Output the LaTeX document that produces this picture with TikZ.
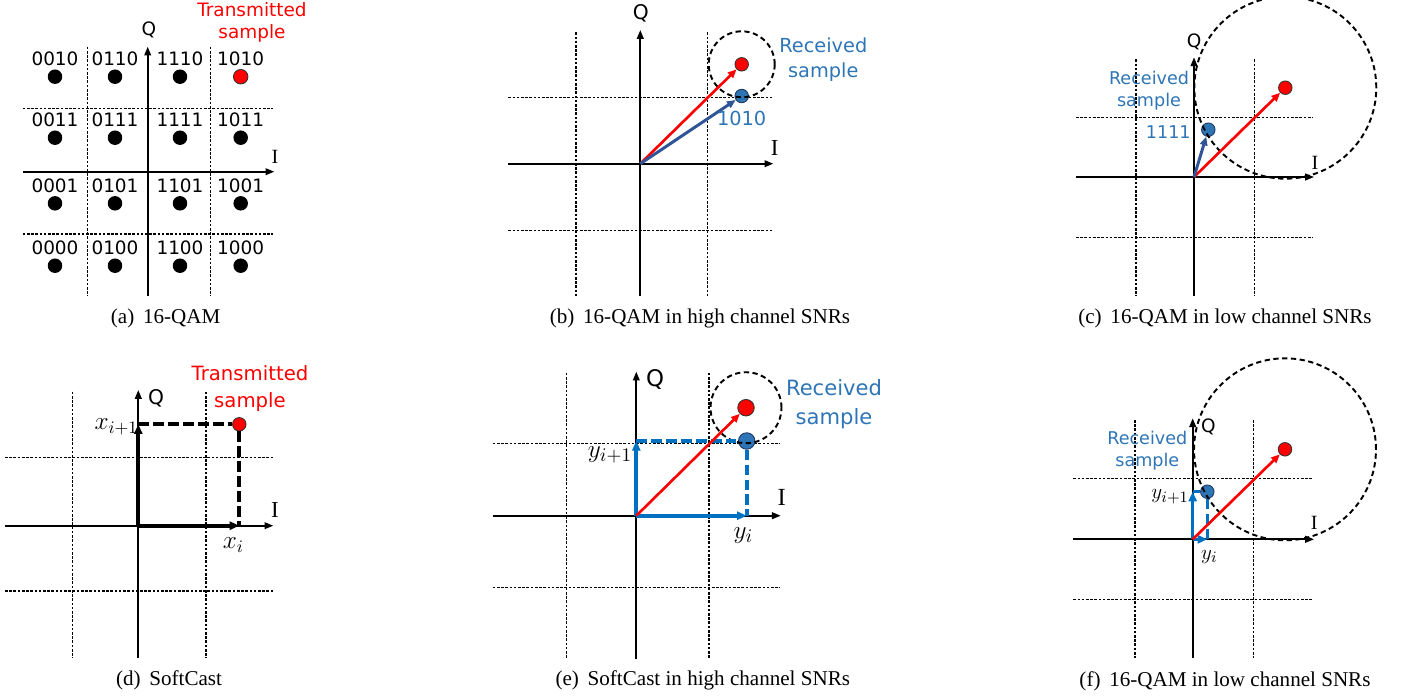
\documentclass[tikz,border=0pt]{standalone}
\usepackage{fontspec}
\setmainfont{Liberation Serif}
\newfontfamily\lblfont{DejaVu Sans}
\usepackage{tikz}
\usetikzlibrary{arrows.meta, positioning}

\definecolor{txblue}{RGB}{46,117,182}
\definecolor{dkblue}{RGB}{47,85,151}
\definecolor{vecblue}{RGB}{0,112,192}
\definecolor{dotedge}{RGB}{31,56,100}

\tikzset{
    gridln/.style={line width=0.6pt, dash pattern=on 1.5pt off 0.9pt},
    axis/.style={line width=1pt, -{Triangle[length=5pt,width=3.8pt]}},
    qdot/.style={circle, fill=black, inner sep=0pt, minimum size=0.29cm},
    rdot/.style={circle, fill=red, draw=black!80, line width=0.5pt, inner sep=0pt, minimum size=#1},
    bdot/.style={circle, fill=txblue, draw=dotedge, line width=0.5pt, inner sep=0pt, minimum size=#1},
    noise/.style={line width=1.1pt, dash pattern=on 3pt off 2pt},
    redvec/.style={red, line width=1.5pt, -{Triangle[length=5pt,width=4.2pt]}},
    dkvec/.style={dkblue, line width=1.7pt, -{Triangle[length=5pt,width=4.2pt]}},
    softvec/.style={line width=#1, -{Triangle[length=5.5pt,width=4.6pt]}},
    softdash/.style={line width=#1, dash pattern=on 6pt off 2.5pt},
    lab/.style={font=\lblfont\fontsize{#1}{#1}\selectfont, inner sep=0pt},
    twolab/.style={align=center, inner sep=0pt},
    ilab/.style={font=\fontsize{#1}{#1}\selectfont, inner sep=0pt},
    subcap/.style={font=\fontsize{12}{14}\selectfont, inner sep=0pt},
}

\begin{document}
\begin{tikzpicture}[x=0.02cm, y=-0.02cm]
    \useasboundingbox (0,0) rectangle (1404,697);

    % (a) 16-QAM
    \begin{scope}[shift={(147.7,171.7)}]
        \draw[gridln] (-60.4,-125) -- (-60.4,124.3);
        \draw[gridln] (63,-125) -- (63,124.3);
        \draw[gridln] (-125,-63.4) -- (125.3,-63.4);
        \draw[gridln] (-125,62.3) -- (125.3,62.3);
        \draw[axis] (-125,0) -- (126.6,0);
        \draw[axis] (0,124.3) -- (0,-125);
        \node[lab=10.5] (a-q) at (1.3,-141.7) {Q};
        \node[ilab=11.5] (a-i) at (127.3,-15) {I};
        \node[qdot, label={[lab=10.5, label distance=1.6pt]above:0010}] (a0010) at (-92.7,-95) {};
        \node[qdot, label={[lab=10.5, label distance=1.6pt]above:0110}] (a0110) at (-32.7,-95) {};
        \node[qdot, label={[lab=10.5, label distance=1.6pt]above:1110}] (a1110) at (32.3,-95) {};
        \node[rdot=0.29cm, label={[lab=10.5, label distance=1.6pt]above:1010}] (a1010) at (93,-95) {};
        \node[qdot, label={[lab=10.5, label distance=1.6pt]above:0011}] (a0011) at (-92.7,-34) {};
        \node[qdot, label={[lab=10.5, label distance=1.6pt]above:0111}] (a0111) at (-32.7,-34) {};
        \node[qdot, label={[lab=10.5, label distance=1.6pt]above:1111}] (a1111) at (32.3,-34) {};
        \node[qdot, label={[lab=10.5, label distance=1.6pt]above:1011}] (a1011) at (93,-34) {};
        \node[qdot, label={[lab=10.5, label distance=1.6pt]above:0001}] (a0001) at (-92.7,31.6) {};
        \node[qdot, label={[lab=10.5, label distance=1.6pt]above:0101}] (a0101) at (-32.7,31.6) {};
        \node[qdot, label={[lab=10.5, label distance=1.6pt]above:1101}] (a1101) at (32.3,31.6) {};
        \node[qdot, label={[lab=10.5, label distance=1.6pt]above:1001}] (a1001) at (93,31.6) {};
        \node[qdot, label={[lab=10.5, label distance=1.6pt]above:0000}] (a0000) at (-92.7,94) {};
        \node[qdot, label={[lab=10.5, label distance=1.6pt]above:0100}] (a0100) at (-32.7,94) {};
        \node[qdot, label={[lab=10.5, label distance=1.6pt]above:1100}] (a1100) at (32.3,94) {};
        \node[qdot, label={[lab=10.5, label distance=1.6pt]above:1000}] (a1000) at (93,94) {};
        \node[twolab, text=red, font=\lblfont\fontsize{10.5}{12.1}\selectfont] (a-tx) at (104.3,-149.4) {Transmitted\\sample};
        \node[subcap] (a-cap) at (18,146.6) {(a)\, 16-QAM};
    \end{scope}

    % (b) 16-QAM, high SNR
    \begin{scope}[shift={(640.3,163.7)}]
        \draw[gridln] (-64.3,-131.4) -- (-64.3,132.3);
        \draw[gridln] (67,-131.4) -- (67,132.3);
        \draw[gridln] (-132,-66) -- (132.4,-66);
        \draw[gridln] (-132,66.6) -- (132.4,66.6);
        \draw[axis] (-132,0) -- (133,0);
        \draw[axis] (0,132.3) -- (0,-133.7);
        \node[lab=11.5] (b-q) at (0.4,-150.4) {Q};
        \node[ilab=13] (b-i) at (134.4,-15.4) {I};
        \coordinate (b-o) at (0,0);
        \node[rdot=0.27cm] (b-red) at (101.4,-99.4) {};
        \node[bdot=0.27cm] (b-blue) at (101.4,-67.7) {};
        \draw[noise] (b-red) circle [radius=0.66cm];
        \draw[redvec] (b-o) -- (b-red);
        \draw[dkvec] (b-o) -- (b-blue);
        \node[lab=11, text=txblue] (b-bits) at (101.4,-45.4) {1010};
        \node[twolab, text=txblue, font=\lblfont\fontsize{11}{14.2}\selectfont] (b-rx) at (183,-104.5) {Received\\sample};
        \node[subcap] (b-cap) at (59.7,154.3) {(b)\, 16-QAM in high channel SNRs};
    \end{scope}

    % (c) 16-QAM, low SNR
    \begin{scope}[shift={(1194,177)}]
        \draw[gridln] (-58,-117.7) -- (-58,119);
        \draw[gridln] (60.3,-117.7) -- (60.3,119);
        \draw[gridln] (-118,-59.3) -- (119.3,-59.3);
        \draw[gridln] (-118,60.3) -- (119.3,60.3);
        \draw[axis] (-118,0) -- (120,0);
        \draw[axis] (0,119) -- (0,-119.7);
        \node[lab=10.5] (c-q) at (0,-135.3) {Q};
        \node[ilab=11.5] (c-i) at (121,-13.7) {I};
        \coordinate (c-o) at (0,0);
        \node[rdot=0.27cm] (c-red) at (91.3,-89.3) {};
        \node[bdot=0.27cm] (c-blue) at (14.3,-47.3) {};
        \draw[noise] (c-red) circle [radius=1.82cm];
        \draw[redvec] (c-o) -- (c-red);
        \draw[dkvec] (c-o) -- (c-blue);
        \node[lab=10, text=txblue] (c-bits) at (-25.7,-45.3) {1111};
        \node[twolab, text=txblue, font=\lblfont\fontsize{10}{12.3}\selectfont] (c-rx) at (-45,-86.2) {Received\\sample};
        \node[subcap] (c-cap) at (31,141.3) {(c)\, 16-QAM in low channel SNRs};
    \end{scope}

    % (d) SoftCast
    \begin{scope}[shift={(138.3,525.7)}]
        \draw[gridln] (-65.6,-134) -- (-65.6,132);
        \draw[gridln] (67.7,-134) -- (67.7,132);
        \draw[gridln] (-133.3,-68) -- (134.4,-68);
        \draw[gridln] (-133.3,65.3) -- (134.4,65.3);
        \draw[axis] (-133.3,0) -- (135,0);
        \draw[axis] (0,132.6) -- (0,-135.7);
        \node[lab=11.5] (d-q) at (17.7,-127.4) {Q};
        \node[ilab=13] (d-i) at (136.7,-15.7) {I};
        \coordinate (d-o) at (0,0);
        \coordinate (d-qc) at (0,-101.4);
        \coordinate (d-ic) at (101,0);
        \node[rdot=0.27cm] (d-red) at (101,-101.4) {};
        \draw[softdash=2.3pt] (d-qc) -- (d-red);
        \draw[softdash=2.3pt] (d-red) -- (d-ic);
        \draw[softvec=2.3pt] (d-o) -- (d-qc);
        \draw[softvec=2.3pt] (d-o) -- (d-ic);
        \node[ilab=14] (d-xq) at (-22,-99) {$x_{i+1}$};
        \node[ilab=14] (d-xi) at (95,19.3) {$x_i$};
        \node[twolab, text=red, font=\lblfont\fontsize{11.2}{15.1}\selectfont] (d-tx) at (111.7,-137.4) {Transmitted\\sample};
        \node[subcap] (d-cap) at (30.7,154.3) {(d)\, SoftCast};
    \end{scope}

    % (e) SoftCast, high SNR
    \begin{scope}[shift={(636.3,515.7)}]
        \draw[gridln] (-69.6,-143) -- (-69.6,143.3);
        \draw[gridln] (72.7,-143) -- (72.7,143.3);
        \draw[gridln] (-143.6,-72.4) -- (143.7,-72.4);
        \draw[gridln] (-143.6,72) -- (143.7,72);
        \draw[axis] (-143.6,0) -- (144.4,0);
        \draw[axis] (0,143.3) -- (0,-144);
        \node[lab=13] (e-q) at (18.7,-136.7) {Q};
        \node[ilab=14] (e-i) at (145.4,-18.4) {I};
        \coordinate (e-o) at (0,0);
        \coordinate (e-qc) at (0,-74.7);
        \coordinate (e-ic) at (110.4,0);
        \node[rdot=0.33cm] (e-red) at (109.7,-108) {};
        \node[bdot=0.33cm] (e-blue) at (110.4,-74.7) {};
        \draw[noise] (e-red) circle [radius=0.71cm];
        \draw[softdash=2.3pt, vecblue] (e-qc) -- (e-blue);
        \draw[softdash=2.3pt, vecblue] (e-blue) -- (e-ic);
        \draw[softvec=2.3pt, vecblue] (e-o) -- (e-qc);
        \draw[softvec=2.3pt, vecblue] (e-o) -- (e-ic);
        \draw[redvec] (e-o) -- (e-red);
        \node[ilab=15] (e-yq) at (-26.3,-60.7) {$y_{i+1}$};
        \node[ilab=15] (e-yi) at (107,20) {$y_i$};
        \node[twolab, text=txblue, font=\lblfont\fontsize{12}{16}\selectfont] (e-rx) at (197.7,-111.5) {Received\\sample};
        \node[subcap] (e-cap) at (66.5,164.3) {(e)\, SoftCast in high channel SNRs};
    \end{scope}

    % (f) low SNR, analog
    \begin{scope}[shift={(1192.7,539.3)}]
        \draw[gridln] (-57.7,-119.3) -- (-57.7,119);
        \draw[gridln] (60.6,-119.3) -- (60.6,119);
        \draw[gridln] (-119.4,-61) -- (120.6,-61);
        \draw[gridln] (-119.4,60) -- (120.6,60);
        \draw[axis] (-119.4,0) -- (121.3,0);
        \draw[axis] (0,119) -- (0,-121);
        \node[lab=10.5] (f-q) at (15.6,-112.6) {Q};
        \node[ilab=11.5] (f-i) at (121.6,-16) {I};
        \coordinate (f-o) at (0,0);
        \coordinate (f-qc) at (0,-47.6);
        \coordinate (f-ic) at (14.6,0);
        \node[rdot=0.27cm] (f-red) at (92.3,-90) {};
        \node[bdot=0.27cm] (f-blue) at (14.6,-47.6) {};
        \draw[noise] (f-red) circle [radius=1.82cm];
        \draw[softdash=2pt, vecblue] (f-qc) -- (f-blue);
        \draw[softdash=2pt, vecblue] (f-blue) -- (f-ic);
        \draw[softvec=2pt, vecblue] (f-o) -- (f-qc);
        \draw[softvec=2pt, vecblue] (f-o) -- (f-ic);
        \draw[redvec] (f-o) -- (f-red);
        \node[ilab=12.5] (f-yq) at (-22.7,-42.6) {$y_{i+1}$};
        \node[ilab=12.5] (f-yi) at (16.6,17.4) {$y_i$};
        \node[twolab, text=txblue, font=\lblfont\fontsize{10}{12.3}\selectfont] (f-rx) at (-45.4,-88.5) {Received\\sample};
        \node[subcap] (f-cap) at (32.3,142.4) {(f)\, 16-QAM in low channel SNRs};
    \end{scope}
\end{tikzpicture}
\end{document}
